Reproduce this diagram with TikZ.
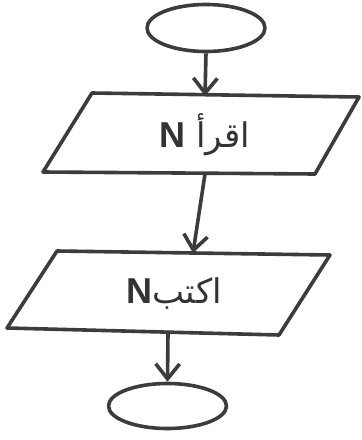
\documentclass[tikz,border=0pt]{standalone}
\usepackage{fontspec}
\setmainfont{Liberation Sans}
\newfontfamily\arabicfont[Script=Arabic]{DejaVu Sans}
\TeXXeTstate=1
\usetikzlibrary{shapes.geometric,arrows.meta}
\definecolor{ink}{HTML}{3C3C3C}
\definecolor{txt}{HTML}{333333}
\tikzset{
  line/.style={draw=ink, line width=3.6pt, line join=round},
  term/.style={line, ellipse, minimum width=118pt, minimum height=47pt, inner sep=0pt},
  flow/.style={line, -{Straight Barb[length=15pt,width=24pt,line width=3.6pt]}},
  lbl/.style={text=txt, inner sep=0pt}
}
\begin{document}
\begin{tikzpicture}[x=1pt,y=-1pt]
\useasboundingbox (0,0) rectangle (362,440);
\node[term] (start) at (206,28) {};
\node[term, minimum height=45pt] (stop) at (167.5,406) {};
% parallelogram 1
\coordinate (a1) at (92,93);
\coordinate (b1) at (359,97);
\coordinate (c1) at (315,174);
\coordinate (d1) at (43,172);
\draw[line] (a1) -- (b1) -- (c1) -- (d1) -- cycle;
% parallelogram 2
\coordinate (a2) at (57,251);
\coordinate (b2) at (330,255);
\coordinate (c2) at (279,335);
\coordinate (d2) at (7,328);
\draw[line] (a2) -- (b2) -- (c2) -- (d2) -- cycle;
% text
\node[lbl] (read) at (205,135) {\arabicfont\fontsize{34}{38}\selectfont\beginR اقرأ {\rmfamily\bfseries\fontsize{36}{40}\selectfont N}\endR};
\node[lbl] (write) at (174,293) {\arabicfont\fontsize{34}{38}\selectfont\beginR اكتب{\rmfamily\bfseries\fontsize{36}{40}\selectfont N}\endR};
% connector points
\coordinate (in1) at (205,96);
\coordinate (out1) at (205,174);
\coordinate (in2) at (193,253);
\coordinate (out2) at (168,333);
\draw[flow] (start.south) -- (in1);
\draw[flow] (out1) -- (in2);
\draw[flow] (out2) -- (stop.north);
\end{tikzpicture}
\end{document}
